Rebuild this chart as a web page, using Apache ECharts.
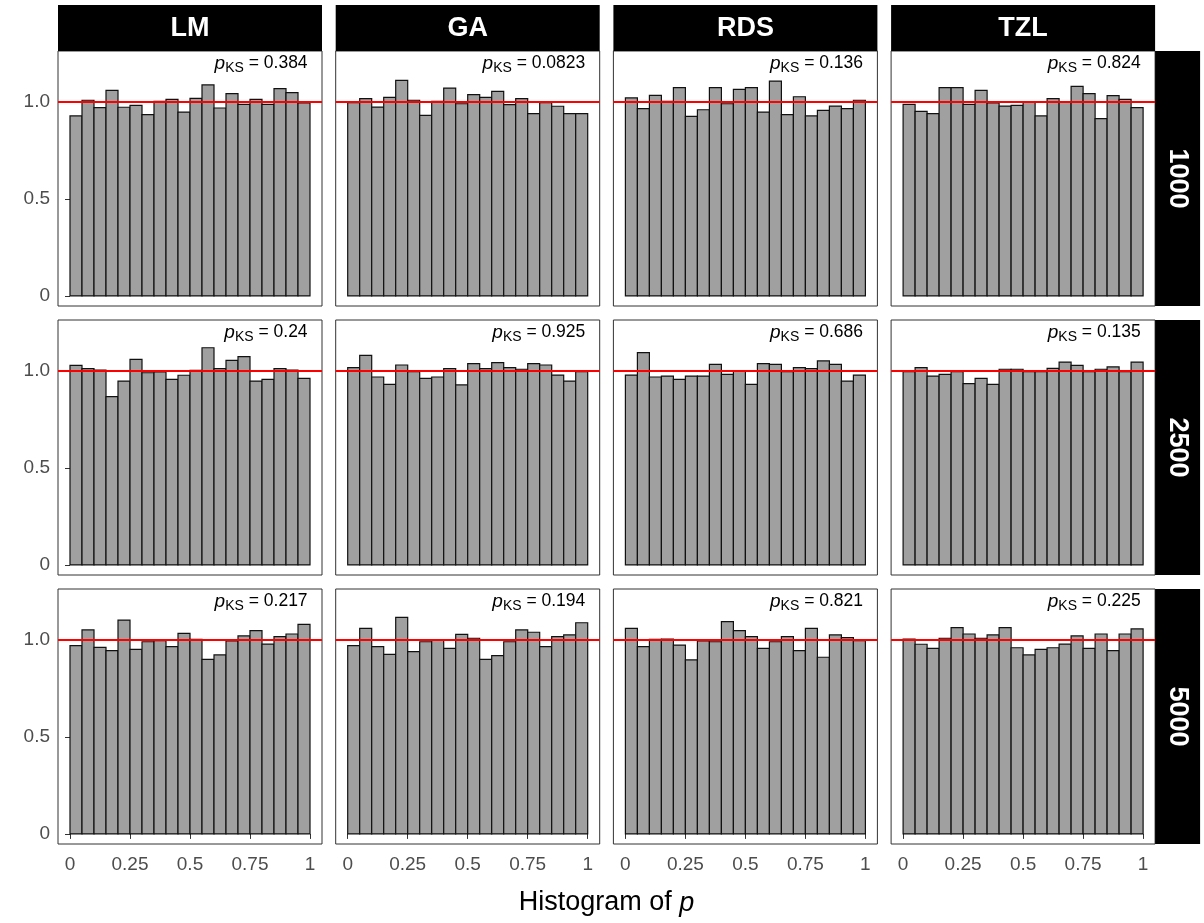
<!DOCTYPE html>
<html>
<head>
<meta charset="utf-8">
<script src="https://cdn.jsdelivr.net/npm/echarts@6/dist/echarts.min.js"></script>
<style>
html,body{margin:0;padding:0;background:#fff;}
#chart{width:1204px;height:923px;}
</style>
</head>
<body>
<div id="chart"></div>
<script>
// ---------- data ----------
const methods = ['LM', 'GA', 'RDS', 'TZL'];
const sizes = ['1000', '2500', '5000'];
const binStarts = [0, 0.05, 0.1, 0.15, 0.2, 0.25, 0.3, 0.35, 0.4, 0.45, 0.5, 0.55, 0.6, 0.65, 0.7, 0.75, 0.8, 0.85, 0.9, 0.95];
const binWidth = 0.05;
const xTicks = [0, 0.25, 0.5, 0.75, 1];
const yTicks = [0, 0.5, 1];
const refLine = 1;

const lm1000  = [0.928, 1.009, 0.971, 1.060, 0.973, 0.983, 0.935, 1.003, 1.014, 0.948, 1.019, 1.088, 0.969, 1.043, 0.988, 1.014, 0.988, 1.069, 1.048, 0.995];
const ga1000  = [0.997, 1.017, 0.974, 1.024, 1.112, 1.009, 0.931, 1.003, 1.072, 0.991, 1.038, 1.024, 1.055, 0.986, 1.017, 0.940, 0.997, 0.978, 0.940, 0.940];
const rds1000 = [1.021, 0.966, 1.034, 1.003, 1.074, 0.926, 0.960, 1.074, 0.991, 1.065, 1.074, 0.948, 1.108, 0.935, 1.027, 0.928, 0.957, 0.979, 0.966, 1.009];
const tzl1000 = [0.988, 0.952, 0.940, 1.074, 1.074, 0.988, 1.060, 0.995, 0.979, 0.983, 1.000, 0.928, 1.017, 1.000, 1.081, 1.043, 0.914, 1.033, 1.014, 0.971];

const lm2500  = [1.029, 1.012, 1.005, 0.868, 0.948, 1.060, 0.991, 0.995, 0.957, 0.978, 1.003, 1.120, 1.012, 1.055, 1.074, 0.948, 0.957, 1.012, 1.005, 0.962];
const ga2500  = [1.017, 1.081, 0.969, 0.931, 1.031, 0.997, 0.962, 0.969, 1.012, 0.928, 1.038, 1.012, 1.043, 1.017, 1.009, 1.038, 1.031, 0.979, 0.948, 0.997];
const rds2500 = [0.979, 1.095, 0.969, 0.974, 0.957, 0.974, 0.974, 1.034, 0.983, 1.000, 0.931, 1.038, 1.034, 0.997, 1.017, 1.012, 1.052, 1.034, 0.948, 0.979];
const tzl2500 = [0.997, 1.017, 0.974, 0.983, 0.997, 0.935, 0.962, 0.931, 1.009, 1.009, 0.997, 0.997, 1.014, 1.046, 1.029, 0.997, 1.009, 1.021, 0.997, 1.046];

const lm5000  = [0.971, 1.052, 0.962, 0.945, 1.103, 0.952, 0.991, 0.997, 0.966, 1.034, 1.003, 0.900, 0.923, 0.995, 1.021, 1.048, 0.979, 1.017, 1.031, 1.081];
const ga5000  = [0.971, 1.060, 0.966, 0.926, 1.117, 0.940, 0.991, 1.000, 0.957, 1.029, 1.009, 0.900, 0.919, 0.991, 1.052, 1.040, 0.966, 1.017, 1.026, 1.089];
const rds5000 = [1.060, 0.966, 1.003, 1.005, 0.974, 0.897, 0.995, 0.991, 1.095, 1.048, 1.017, 0.957, 0.991, 1.017, 0.945, 1.060, 0.911, 1.026, 1.012, 0.997];
const tzl5000 = [1.005, 0.978, 0.957, 1.009, 1.064, 1.031, 1.009, 1.026, 1.064, 0.960, 0.923, 0.952, 0.960, 0.979, 1.021, 0.957, 1.031, 0.945, 1.031, 1.057];

const pKS1000 = ['0.384', '0.0823', '0.136', '0.824'];
const pKS2500 = ['0.24', '0.925', '0.686', '0.135'];
const pKS5000 = ['0.217', '0.194', '0.821', '0.225'];

const panelValues = [
  [lm1000, ga1000, rds1000, tzl1000],
  [lm2500, ga2500, rds2500, tzl2500],
  [lm5000, ga5000, rds5000, tzl5000]
];
const panelPKS = [pKS1000, pKS2500, pKS5000];

// ---------- layout ----------
const FONT = '"Liberation Sans", Arial, Helvetica, sans-serif';
const PX0 = 58, PW = 264, PGAPX = 13.7;
const PY0 = 51, PH = 255, PGAPY = 14;
const STRIP_TOP_Y = 5, STRIP_TOP_H = 46;
const STRIP_R_W = 45;
const XMIN = -0.05, XMAX = 1.05;
const YMIN = -0.052, YMAX = 1.263;

const chart = echarts.init(document.getElementById('chart'), null, {renderer: 'canvas'});

const grids = [], xAxes = [], yAxes = [], series = [], graphics = [];

for (let r = 0; r < sizes.length; r++) {
  for (let c = 0; c < methods.length; c++) {
    const idx = r * methods.length + c;
    const left = PX0 + c * (PW + PGAPX);
    const top = PY0 + r * (PH + PGAPY);
    grids.push({
      left: left, top: top, width: PW, height: PH,
      show: true, borderColor: '#333333', borderWidth: 1, backgroundColor: '#ffffff',
      containLabel: false
    });
    const showX = (r === sizes.length - 1);
    const showY = (c === 0);
    xAxes.push({
      type: 'value', gridIndex: idx, min: XMIN, max: XMAX,
      axisLine: {show: false},
      splitLine: {show: false},
      axisTick: {show: showX, customValues: xTicks, length: 5, lineStyle: {color: '#333333', width: 1}},
      axisLabel: {show: showX, customValues: xTicks, fontSize: 19, color: '#4d4d4d', fontFamily: FONT, margin: 11,
        formatter: v => String(v)}
    });
    yAxes.push({
      type: 'value', gridIndex: idx, min: YMIN, max: YMAX,
      axisLine: {show: false},
      splitLine: {show: false},
      axisTick: {show: showY, customValues: yTicks, length: 5, lineStyle: {color: '#333333', width: 1}},
      axisLabel: {show: showY, customValues: yTicks, fontSize: 19, color: '#4d4d4d', fontFamily: FONT, margin: 8,
        formatter: v => (v === 0 ? '0' : v.toFixed(1))}
    });
    const vals = panelValues[r][c];
    const data = binStarts.map((b, i) => [b, b + binWidth, vals[i]]);
    series.push({
      type: 'custom', xAxisIndex: idx, yAxisIndex: idx,
      data: data, silent: true, clip: false,
      renderItem: function (params, api) {
        const p0 = api.coord([api.value(0), 0]);
        const p1 = api.coord([api.value(1), api.value(2)]);
        return {
          type: 'rect',
          shape: {x: p0[0], y: p1[1], width: p1[0] - p0[0], height: p0[1] - p1[1]},
          style: {fill: '#a0a0a0', stroke: '#111111', lineWidth: 1.2}
        };
      },
      markLine: {
        silent: true, symbol: ['none', 'none'], animation: false,
        label: {show: false},
        lineStyle: {color: '#ff0000', width: 2, type: 'solid'},
        data: [{yAxis: refLine}]
      },
      animation: false
    });
    series.push({
      type: 'custom', xAxisIndex: idx, yAxisIndex: idx,
      data: [[0.99, 1.19]], silent: true, clip: false, z: 5,
      renderItem: (function (txt) {
        return function (params, api) {
          const p = api.coord([api.value(0), api.value(1)]);
          return {
            type: 'text', x: p[0], y: p[1],
            style: {
              text: '{p|p}{s|KS}{n| = ' + txt + '}',
              align: 'right', verticalAlign: 'middle',
              fill: '#000',
              rich: {
                p: {fontSize: 19, fontStyle: 'italic', fontFamily: FONT, fill: '#000', lineHeight: 22, verticalAlign: 'top', padding: [0, 0, 0, 0]},
                s: {fontSize: 14, fontFamily: FONT, fill: '#000', lineHeight: 14, verticalAlign: 'top', padding: [7, 0, 0, 0]},
                n: {fontSize: 17.5, fontFamily: FONT, fill: '#000', lineHeight: 22, verticalAlign: 'top', padding: [0, 0, 0, 0]}
              }
            }
          };
        };
      })(panelPKS[r][c]),
      animation: false
    });
  }
}

// top strips
for (let c = 0; c < methods.length; c++) {
  const left = PX0 + c * (PW + PGAPX);
  graphics.push({
    type: 'rect', shape: {x: left, y: STRIP_TOP_Y, width: PW, height: STRIP_TOP_H},
    style: {fill: '#000000'}, silent: true
  });
  graphics.push({
    type: 'text', x: left + PW / 2, y: STRIP_TOP_Y + STRIP_TOP_H / 2 + 1,
    style: {text: methods[c], fill: '#ffffff', fontSize: 27, fontWeight: 'bold', fontFamily: FONT,
      align: 'center', verticalAlign: 'middle'}, silent: true
  });
}
// right strips
const rightX = PX0 + 3 * (PW + PGAPX) + PW;
for (let r = 0; r < sizes.length; r++) {
  const top = PY0 + r * (PH + PGAPY);
  graphics.push({
    type: 'rect', shape: {x: rightX, y: top, width: STRIP_R_W, height: PH},
    style: {fill: '#000000'}, silent: true
  });
  graphics.push({
    type: 'text', x: rightX + STRIP_R_W / 2, y: top + PH / 2, rotation: -Math.PI / 2,
    style: {text: sizes[r], fill: '#ffffff', fontSize: 27, fontWeight: 'bold', fontFamily: FONT,
      align: 'center', verticalAlign: 'middle'}, silent: true
  });
}
// x axis title
graphics.push({
  type: 'text', x: PX0 + (4 * PW + 3 * PGAPX) / 2, y: 903,
  style: {
    text: '{a|Histogram of }{b|p}', align: 'center', verticalAlign: 'middle',
    rich: {
      a: {fontSize: 27, fontFamily: FONT, fill: '#000'},
      b: {fontSize: 27, fontFamily: FONT, fontStyle: 'italic', fill: '#000'}
    }
  }, silent: true
});

chart.setOption({
  animation: false,
  backgroundColor: '#ffffff',
  grid: grids,
  xAxis: xAxes,
  yAxis: yAxes,
  series: series,
  graphic: graphics
});
</script>
</body>
</html>
